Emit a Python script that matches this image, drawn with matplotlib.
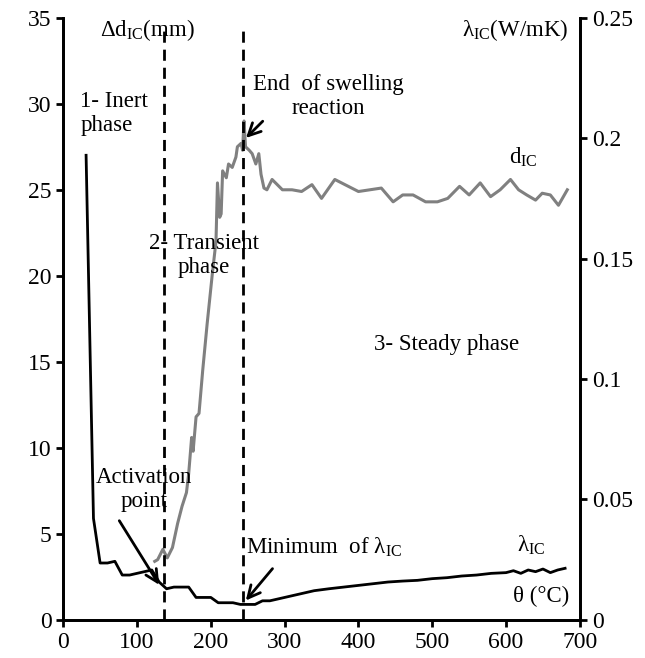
import matplotlib
matplotlib.use("Agg")
import matplotlib.pyplot as plt

plt.rcParams['font.family'] = ['Liberation Serif', 'DejaVu Serif']
plt.rcParams['mathtext.fontset'] = 'custom'
plt.rcParams['mathtext.rm'] = 'Liberation Serif'
plt.rcParams['mathtext.it'] = 'Liberation Serif:italic'

# swelling d_IC (mm) vs temperature
temp_d = [124, 128, 135, 141, 148, 155, 161, 167, 170, 174, 176, 180, 184, 189,
          195, 202, 207, 209, 212, 214, 216, 221, 224, 229, 234, 236, 241, 243,
          245, 247, 252, 256, 261, 265, 268, 272, 276, 283, 297, 310, 323, 337,
          350, 368, 400, 431, 447, 460, 474, 491, 507, 521, 537, 550, 565, 579,
          592, 606, 617, 628, 640, 649, 660, 671, 683]
d_ic = [3.4, 3.5, 4.1, 3.6, 4.2, 5.6, 6.6, 7.4, 8.5, 10.6, 9.8, 11.8, 12.0, 14.5,
        17.2, 20.1, 22.0, 25.4, 23.4, 23.6, 26.1, 25.7, 26.5, 26.3, 26.9, 27.5, 27.7, 27.3,
        29.0, 27.5, 27.3, 27.1, 26.5, 27.1, 25.9, 25.1, 25.0, 25.6, 25.0, 25.0, 24.9, 25.3,
        24.5, 25.6, 24.9, 25.1, 24.3, 24.7, 24.7, 24.3, 24.3, 24.5, 25.2, 24.7, 25.4, 24.6,
        25.0, 25.6, 25.0, 24.7, 24.4, 24.8, 24.7, 24.1, 25.0]

# thermal conductivity lambda_IC (W/mK) vs temperature
temp_l = [31, 41, 50, 60, 70, 80, 90, 100, 110, 120, 130, 140, 150, 160, 170,
          180, 190, 200, 210, 220, 230, 240, 250, 260, 270, 280, 290, 300, 320,
          340, 360, 380, 400, 420, 440, 460, 480, 500, 520, 540, 560, 580, 600,
          610, 620, 630, 640, 650, 660, 670, 680]
lam_ic = [0.1929, 0.0421, 0.0236, 0.0236, 0.0243, 0.0186, 0.0186, 0.0193, 0.0200,
          0.0207, 0.0157, 0.0129, 0.0136, 0.0136, 0.0136, 0.0093, 0.0093, 0.0093,
          0.0071, 0.0071, 0.0071, 0.0064, 0.0064, 0.0064, 0.0079, 0.0079, 0.0086,
          0.0093, 0.0107, 0.0121, 0.0129, 0.0136, 0.0143, 0.0150, 0.0157, 0.0161,
          0.0164, 0.0171, 0.0175, 0.0182, 0.0186, 0.0193, 0.0196, 0.0204, 0.0193,
          0.0207, 0.0200, 0.0211, 0.0196, 0.0207, 0.0214]

phase_bounds = [137, 244]

fig = plt.figure(figsize=(6.45, 6.58), dpi=100)
ax = fig.add_axes([0.098, 0.058, 0.801, 0.915])
ax2 = ax.twinx()

ax.plot(temp_d, d_ic, color='#808080', lw=2.2)
ax2.plot(temp_l, lam_ic, color='black', lw=2)
ax.vlines(phase_bounds, 0, 34.3, colors='black', linestyles=(0, (4, 2.5)), lw=2)

ax.set_xlim(0, 700)
ax.set_ylim(0, 35)
ax2.set_ylim(0, 0.25)
ax.set_xticks(range(0, 701, 100))
ax.set_yticks(range(0, 36, 5))
ax2.set_yticks([0, 0.05, 0.1, 0.15, 0.2, 0.25])
ax2.set_yticklabels(['0', '0.05', '0.1', '0.15', '0.2', '0.25'])

for a in (ax, ax2):
    a.spines['top'].set_visible(False)
    for s in a.spines.values():
        s.set_linewidth(2)
    a.tick_params(direction='out', length=5, width=2, labelsize=17)
ax.set_zorder(ax2.get_zorder() + 1)
ax.patch.set_visible(False)

fs = 16.5
ls = 1.2
ax.text(50, 34.3, r'Δd$_{\mathrm{IC}}$(mm)', fontsize=fs, va='center')
ax.text(684, 34.3, r'λ$_{\mathrm{IC}}$(W/mK)', fontsize=fs, va='center', ha='right')
ax.text(23, 29.45, '1- Inert\nphase', fontsize=fs, va='center', ha='left', linespacing=ls)
ax.text(191, 21.2, '2- Transient\nphase', fontsize=fs, va='center', ha='center', linespacing=ls)
ax.text(520, 16.0, '3- Steady phase', fontsize=fs, va='center', ha='center')
ax.text(359, 30.4, 'End  of swelling\nreaction', fontsize=fs, va='center', ha='center', linespacing=ls)
ax.text(604, 26.9, r'd$_{\mathrm{IC}}$', fontsize=fs, va='center', ha='left')
ax.text(109, 7.6, 'Activation\npoint', fontsize=fs, va='center', ha='center', linespacing=ls)
ax.text(248, 4.2, r'Minimum  of λ$_{\mathrm{IC}}$', fontsize=fs, va='center', ha='left')
ax.text(615, 4.35, r'λ$_{\mathrm{IC}}$', fontsize=fs, va='center', ha='left')
ax.text(685, 1.35, 'θ (°C)', fontsize=fs, va='center', ha='right')

arrow = dict(arrowstyle='->', color='black', lw=2, mutation_scale=22)
ax.annotate('', xy=(132, 1.9), xytext=(74, 5.9), arrowprops=arrow)
ax.annotate('', xy=(245, 1.0), xytext=(286, 3.1), arrowprops=arrow)
ax.annotate('', xy=(245, 27.9), xytext=(273, 29.1), arrowprops=arrow)

fig.savefig('out.png', dpi=100)
